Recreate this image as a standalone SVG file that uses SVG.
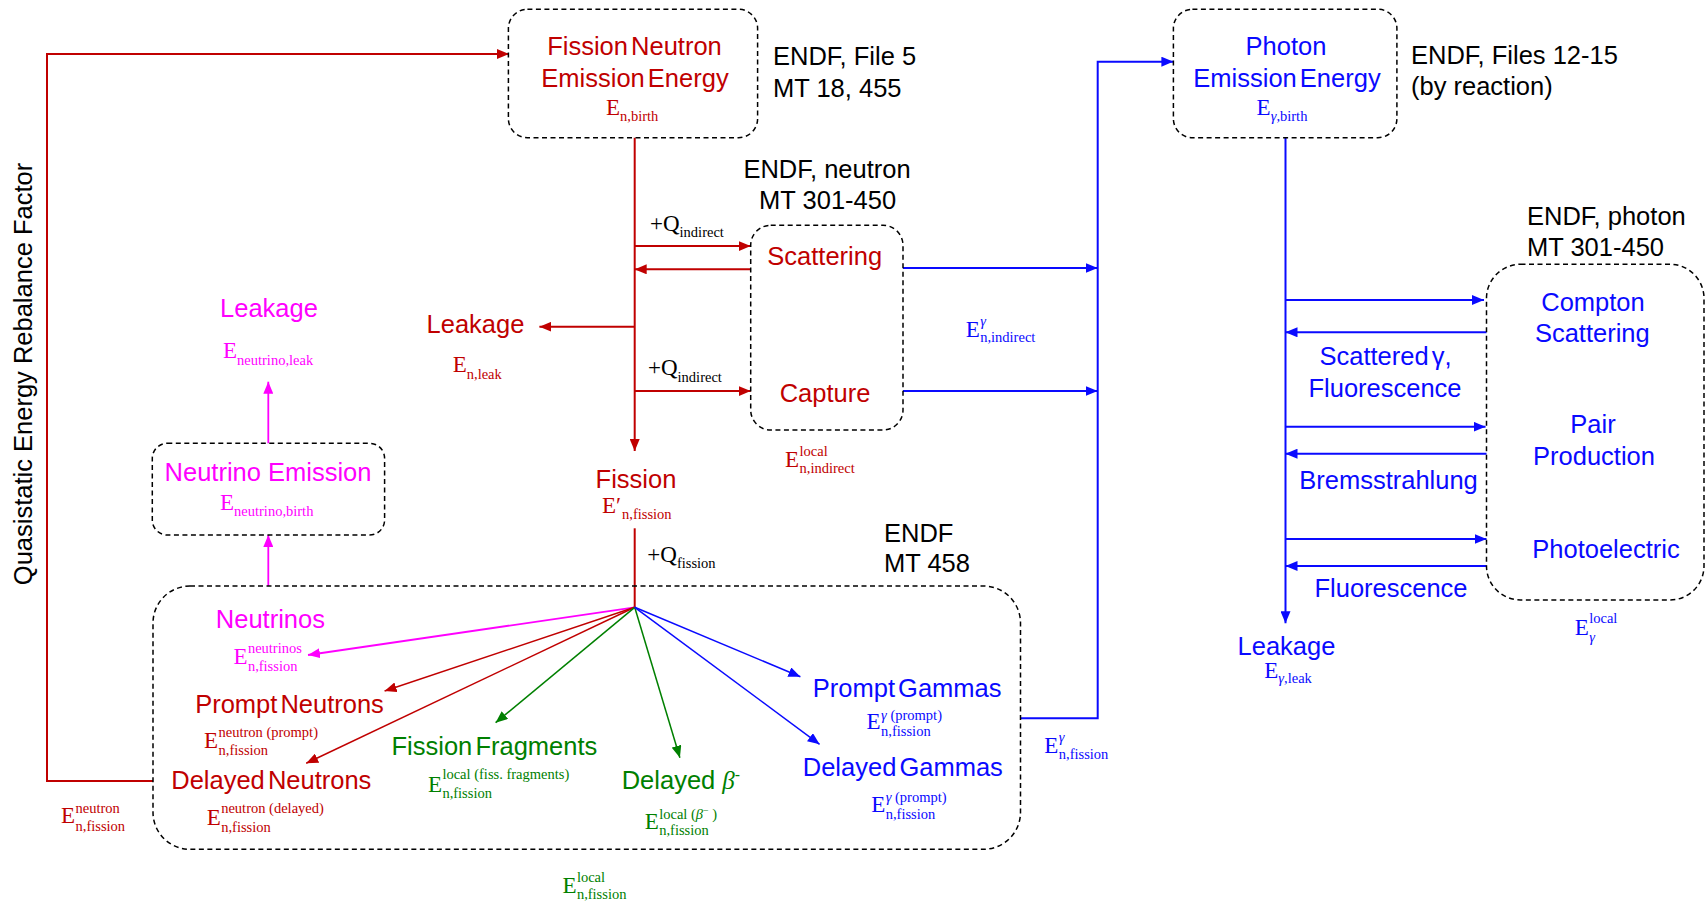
<svg xmlns="http://www.w3.org/2000/svg" width="1706" height="903" viewBox="0 0 1706 903">
<style>
.s{font-family:"Liberation Sans",Arial,sans-serif;font-size:25.5px}
.t{word-spacing:-4px}
.m{font-family:"Liberation Serif","Times New Roman",serif;font-size:23px}
.u{font-size:14.5px}
.i{font-style:italic}
.c{text-anchor:middle}
.r{fill:#C00000}.b{fill:#0A0AFF}.g{fill:#008000}.p{fill:#FF00FF}.k{fill:#000}
.box{fill:none;stroke:#000;stroke-width:1.5;stroke-dasharray:5 3.5}
.lr{fill:none;stroke:#C00000;stroke-width:2}
.lb{fill:none;stroke:#0A0AFF;stroke-width:2}
.lg{fill:none;stroke:#008000;stroke-width:1.5}
.lp{fill:none;stroke:#FF00FF;stroke-width:1.8}
.fr{stroke-width:1.5}
</style>
<defs>
<marker id="ar" markerUnits="userSpaceOnUse" markerWidth="12" markerHeight="10" refX="12" refY="5" orient="auto"><path d="M0,0L12,5L0,10z" fill="#C00000"/></marker>
<marker id="ab" markerUnits="userSpaceOnUse" markerWidth="12" markerHeight="10" refX="12" refY="5" orient="auto"><path d="M0,0L12,5L0,10z" fill="#0A0AFF"/></marker>
<marker id="ag" markerUnits="userSpaceOnUse" markerWidth="12" markerHeight="10" refX="12" refY="5" orient="auto"><path d="M0,0L12,5L0,10z" fill="#008000"/></marker>
<marker id="ap" markerUnits="userSpaceOnUse" markerWidth="12" markerHeight="10" refX="12" refY="5" orient="auto"><path d="M0,0L12,5L0,10z" fill="#FF00FF"/></marker>
</defs>
<rect width="1706" height="903" fill="#fff"/>

<g id="connectors">
<path class="lr" d="M153,781H47V54H509" marker-end="url(#ar)"/>
<path class="lr" d="M634.7,137.7V451" marker-end="url(#ar)"/>
<path class="lr" d="M634.7,246H750.7" marker-end="url(#ar)"/>
<path class="lr" d="M750.7,269.3H634.7" marker-end="url(#ar)"/>
<path class="lr" d="M634.7,326.7H539.4" marker-end="url(#ar)"/>
<path class="lr" d="M634.7,391H750.7" marker-end="url(#ar)"/>
<path class="lr" d="M634.7,528.3V607.3"/>
<path class="lp" d="M634.7,607.3L308,655" marker-end="url(#ap)"/>
<path class="lr fr" d="M634.7,607.3L384.6,691" marker-end="url(#ar)"/>
<path class="lr fr" d="M634.7,607.3L306.2,763.3" marker-end="url(#ar)"/>
<path class="lg" d="M634.7,607.3L495.6,722.7" marker-end="url(#ag)"/>
<path class="lg" d="M634.7,607.3L679.9,757.7" marker-end="url(#ag)"/>
<path class="lb fr" d="M634.7,607.3L800.4,676.7" marker-end="url(#ab)"/>
<path class="lb fr" d="M634.7,607.3L819.6,744.3" marker-end="url(#ab)"/>
<path class="lp" d="M268.3,586V535" marker-end="url(#ap)"/>
<path class="lp" d="M268.3,443.3V381.7" marker-end="url(#ap)"/>
<path class="lb" d="M903,268H1097.7" marker-end="url(#ab)"/>
<path class="lb" d="M903,391H1097.7" marker-end="url(#ab)"/>
<path class="lb" d="M1020.5,718.3H1097.7V61.7H1173.4" marker-end="url(#ab)"/>
<path class="lb" d="M1285.5,137.7V623.3" marker-end="url(#ab)"/>
<path class="lb" d="M1285.5,300H1484" marker-end="url(#ab)"/>
<path class="lb" d="M1486.5,332.3H1285.5" marker-end="url(#ab)"/>
<path class="lb" d="M1285.5,426.7H1485.5" marker-end="url(#ab)"/>
<path class="lb" d="M1486.5,453.7H1285.5" marker-end="url(#ab)"/>
<path class="lb" d="M1285.5,539H1486.5" marker-end="url(#ab)"/>
<path class="lb" d="M1486.5,566H1285.5" marker-end="url(#ab)"/>
</g>

<g id="rebalance-label">
<text class="s k" transform="translate(32,374) rotate(-90)" text-anchor="middle">Quasistatic Energy Rebalance Factor</text>
<text class="m r" x="61" y="823.3">E<tspan class="u" x="75.5" y="812.7">neutron</tspan><tspan class="u" x="75.5" y="830.7">n,fission</tspan></text>
</g>

<g id="fission-neutron-emission">
<rect class="box" x="508.4" y="9.3" width="249.2" height="128.4" rx="19"/>
<text class="s r c t" x="634.5" y="55">Fission Neutron</text>
<text class="s r c t" x="635" y="87.3">Emission Energy</text>
<text class="m r" x="606" y="115">E<tspan class="u" y="120.7">n,birth</tspan></text>
<text class="s k" x="773" y="65">ENDF, File 5</text>
<text class="s k" x="773" y="96.7">MT 18, 455</text>
</g>

<g id="neutron-indirect">
<rect class="box" x="750.7" y="225.3" width="152.3" height="204.7" rx="20"/>
<text class="s k c" x="827" y="178.3">ENDF, neutron</text>
<text class="s k c" x="827.6" y="209.3">MT 301-450</text>
<text class="s r c" x="824.7" y="265">Scattering</text>
<text class="s r c" x="825" y="401.7">Capture</text>
<text class="m k" x="650" y="231">+Q<tspan class="u" y="237.3">indirect</tspan></text>
<text class="m k" x="648" y="375">+Q<tspan class="u" y="381.7">indirect</tspan></text>
<text class="m r" x="785" y="466.7">E<tspan class="u" x="799.5" y="456">local</tspan><tspan class="u" x="799.5" y="472.7">n,indirect</tspan></text>
<text class="m b" x="965.7" y="336.7">E<tspan class="u i" x="980.2" y="325.5">γ</tspan><tspan class="u" x="980.2" y="342.3">n,indirect</tspan></text>
</g>

<g id="neutron-leakage">
<text class="s r c" x="475.5" y="333.3">Leakage</text>
<text class="m r" x="452.7" y="372.3">E<tspan class="u" y="379">n,leak</tspan></text>
</g>

<g id="fission">
<text class="s r c" x="636" y="488.3">Fission</text>
<text class="m r" x="602" y="513.3">E′<tspan class="u" x="622" y="519.3">n,fission</tspan></text>
<text class="m k" x="647.3" y="561.7">+Q<tspan class="u" y="568.3">fission</tspan></text>
<text class="s k" x="884" y="541.7">ENDF</text>
<text class="s k" x="884" y="571.7">MT 458</text>
</g>

<g id="neutrino-emission">
<rect class="box" x="152.3" y="443.3" width="232.3" height="91.7" rx="15"/>
<text class="s p c" x="268" y="481">Neutrino Emission</text>
<text class="m p" x="220" y="510">E<tspan class="u" y="515.7">neutrino,birth</tspan></text>
</g>

<g id="neutrino-leakage">
<text class="s p c" x="269" y="317.3">Leakage</text>
<text class="m p" x="223" y="358.3">E<tspan class="u" y="365">neutrino,leak</tspan></text>
</g>

<g id="fission-products">
<rect class="box" x="153" y="586" width="867.5" height="263.3" rx="37"/>
<text class="s p c" x="270.4" y="628.3">Neutrinos</text>
<text class="m p" x="233.4" y="664.3">E<tspan class="u" x="247.9" y="653.3">neutrinos</tspan><tspan class="u" x="247.9" y="670.7">n,fission</tspan></text>
<text class="s r c t" x="289.5" y="712.7">Prompt Neutrons</text>
<text class="m r" x="204" y="748.3">E<tspan class="u" x="218.5" y="736.7">neutron (prompt)</tspan><tspan class="u" x="218.5" y="754.7">n,fission</tspan></text>
<text class="s r c t" x="271.3" y="789.3">Delayed Neutrons</text>
<text class="m r" x="206.7" y="825">E<tspan class="u" x="221.2" y="813.3">neutron (delayed)</tspan><tspan class="u" x="221.2" y="831.7">n,fission</tspan></text>
<text class="s g c t" x="494.4" y="755">Fission Fragments</text>
<text class="m g" x="427.9" y="792">E<tspan class="u" x="442.4" y="779">local (fiss. fragments)</tspan><tspan class="u" x="442.4" y="798.3">n,fission</tspan></text>
<text class="s g" x="621.7" y="789">Delayed <tspan class="m i" style="font-size:25px">β</tspan><tspan style="font-size:16px" dy="-9">-</tspan></text>
<text class="m g" x="644.7" y="829.3">E<tspan class="u" x="659.2" y="819.3">local (<tspan class="i">β</tspan><tspan style="font-size:10px" dy="-5">−</tspan><tspan dy="5"> )</tspan></tspan><tspan class="u" x="659.2" y="835">n,fission</tspan></text>
<text class="s b c t" x="907.2" y="696.7">Prompt Gammas</text>
<text class="m b" x="866.6" y="729.3">E<tspan class="u" x="881.1" y="720"><tspan class="i">γ</tspan> (prompt)</tspan><tspan class="u" x="881.1" y="736">n,fission</tspan></text>
<text class="s b c t" x="902.8" y="775.7">Delayed Gammas</text>
<text class="m b" x="871.2" y="812.3">E<tspan class="u" x="885.7" y="801.7"><tspan class="i">γ</tspan> (prompt)</tspan><tspan class="u" x="885.7" y="818.7">n,fission</tspan></text>
<text class="m g" x="562.4" y="892.7">E<tspan class="u" x="576.9" y="881.7">local</tspan><tspan class="u" x="576.9" y="899.3">n,fission</tspan></text>
<text class="m b" x="1044.3" y="753.3">E<tspan class="u i" x="1058.8" y="741.5">γ</tspan><tspan class="u" x="1058.8" y="759">n,fission</tspan></text>
</g>

<g id="photon-emission">
<rect class="box" x="1173.4" y="9.3" width="223.5" height="128.4" rx="19"/>
<text class="s b c" x="1286" y="55">Photon</text>
<text class="s b c t" x="1287" y="87.3">Emission Energy</text>
<text class="m b" x="1256.6" y="115">E<tspan class="u" y="120.7"><tspan class="i">γ</tspan>,birth</tspan></text>
<text class="s k" x="1411" y="64">ENDF, Files 12-15</text>
<text class="s k" x="1411" y="95">(by reaction)</text>
</g>

<g id="photon-interactions">
<rect class="box" x="1486.5" y="264.3" width="217.5" height="335.7" rx="34"/>
<text class="s k" x="1527" y="225">ENDF, photon</text>
<text class="s k" x="1527" y="255.7">MT 301-450</text>
<text class="s b c" x="1593" y="310.7">Compton</text>
<text class="s b c" x="1592.3" y="342.3">Scattering</text>
<text class="s b c" x="1593" y="433.3">Pair</text>
<text class="s b c" x="1594" y="465">Production</text>
<text class="s b c" x="1606" y="557.7">Photoelectric</text>
<text class="m b" x="1574.7" y="635">E<tspan class="u" x="1589.2" y="623.3">local</tspan><tspan class="u i" x="1589.2" y="641.7">γ</tspan></text>
<text class="s b c t" x="1385.5" y="365">Scattered γ,</text>
<text class="s b c" x="1385" y="397.3">Fluorescence</text>
<text class="s b c" x="1388.5" y="489.3">Bremsstrahlung</text>
<text class="s b c" x="1391" y="597.3">Fluorescence</text>
</g>

<g id="photon-leakage">
<text class="s b c" x="1286.5" y="655">Leakage</text>
<text class="m b" x="1264.3" y="677.7">E<tspan class="u" y="683.3"><tspan class="i">γ</tspan>,leak</tspan></text>
</g>
</svg>
